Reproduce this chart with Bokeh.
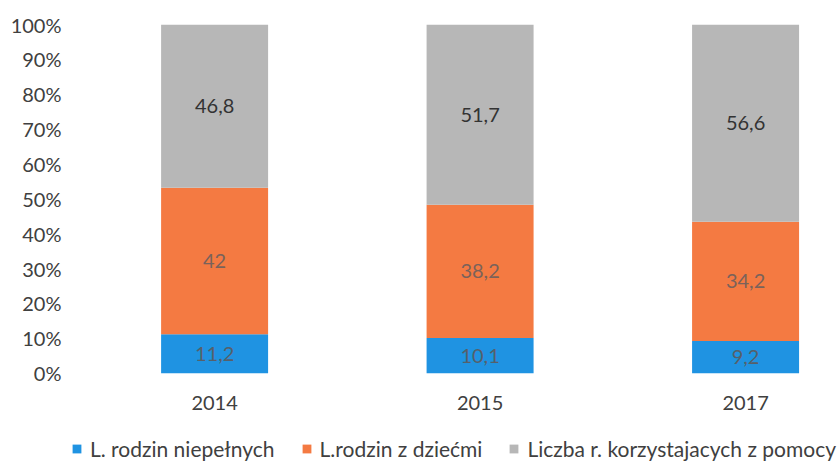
from bokeh.plotting import figure
from bokeh.models import ColumnDataSource, FixedTicker, Legend, LegendItem, Range1d
from bokeh.core.properties import value
from bokeh.embed import file_html
from bokeh.resources import INLINE

years = ["2014", "2015", "2017"]
niepelne = [11.2, 10.1, 9.2]
z_dziecmi = [42, 38.2, 34.2]
korzystajace = [46.8, 51.7, 56.6]
series_names = ["L. rodzin niepełnych", "L.rodzin z dziećmi", "Liczba r. korzystajacych z pomocy"]
y_ticks = [0, 10, 20, 30, 40, 50, 60, 70, 80, 90, 100]
colors = ["#1f93e2", "#f47a42", "#b7b7b7"]
label_colors = ["#56606a", "#7a625a", "#333333"]

FONT = "Lato"

xs = list(range(len(years)))
src = ColumnDataSource(dict(x=xs, a=niepelne, b=z_dziecmi, c=korzystajace))

p = figure(width=838, height=463, output_backend="svg", toolbar_location=None,
           x_range=Range1d(-0.539, 2.35), y_range=Range1d(-25.9, 100),
           min_border_left=71, min_border_right=0, min_border_top=24, min_border_bottom=0)
p.outline_line_color = None
p.background_fill_color = "white"
p.border_fill_color = "white"
p.xgrid.grid_line_color = None
p.ygrid.grid_line_color = None

renderers = p.vbar_stack(["a", "b", "c"], x="x", width=0.403, color=colors, source=src,
                         line_color=None)

# labels
series = [niepelne, z_dziecmi, korzystajace]
for si, vals in enumerate(series):
    ys, txt = [], []
    for i in range(len(years)):
        base = sum(series[k][i] for k in range(si))
        ys.append(base + vals[i] / 2)
        v = vals[i]
        txt.append(str(int(v)) if v == int(v) else str(v).replace(".", ","))
    ls = ColumnDataSource(dict(x=xs, y=ys, t=txt))
    p.text(x="x", y="y", text="t", source=ls, text_align="center", text_baseline="middle",
           text_font=value(FONT), text_font_size="20px", text_color=label_colors[si])

p.xaxis.ticker = FixedTicker(ticks=xs)
p.xaxis.major_label_overrides = {i: y for i, y in enumerate(years)}
p.xaxis.fixed_location = 0
p.yaxis.ticker = FixedTicker(ticks=y_ticks)
p.yaxis.major_label_overrides = {t: f"{t}%" for t in y_ticks}
for ax in (p.xaxis[0], p.yaxis[0]):
    ax.axis_line_color = None
    ax.major_tick_line_color = None
    ax.minor_tick_line_color = None
    ax.major_tick_out = 0
    ax.major_tick_in = 0
    ax.major_label_text_font = FONT
    ax.major_label_text_font_size = "20px"
    ax.major_label_text_color = "#404040"
p.xaxis.major_label_standoff = 23
p.yaxis.major_label_standoff = 10

legend = Legend(items=[LegendItem(label=n, renderers=[r]) for n, r in zip(series_names, renderers)],
                orientation="horizontal", location=(0, 2),
                glyph_width=11, glyph_height=11, label_standoff=8, spacing=26,
                padding=0, margin=0, border_line_color=None, background_fill_alpha=0,
                label_text_font=FONT, label_text_font_size="21px", label_text_color="#404040")
p.add_layout(legend, "center")

open("out.html", "w").write(file_html(p, INLINE))
